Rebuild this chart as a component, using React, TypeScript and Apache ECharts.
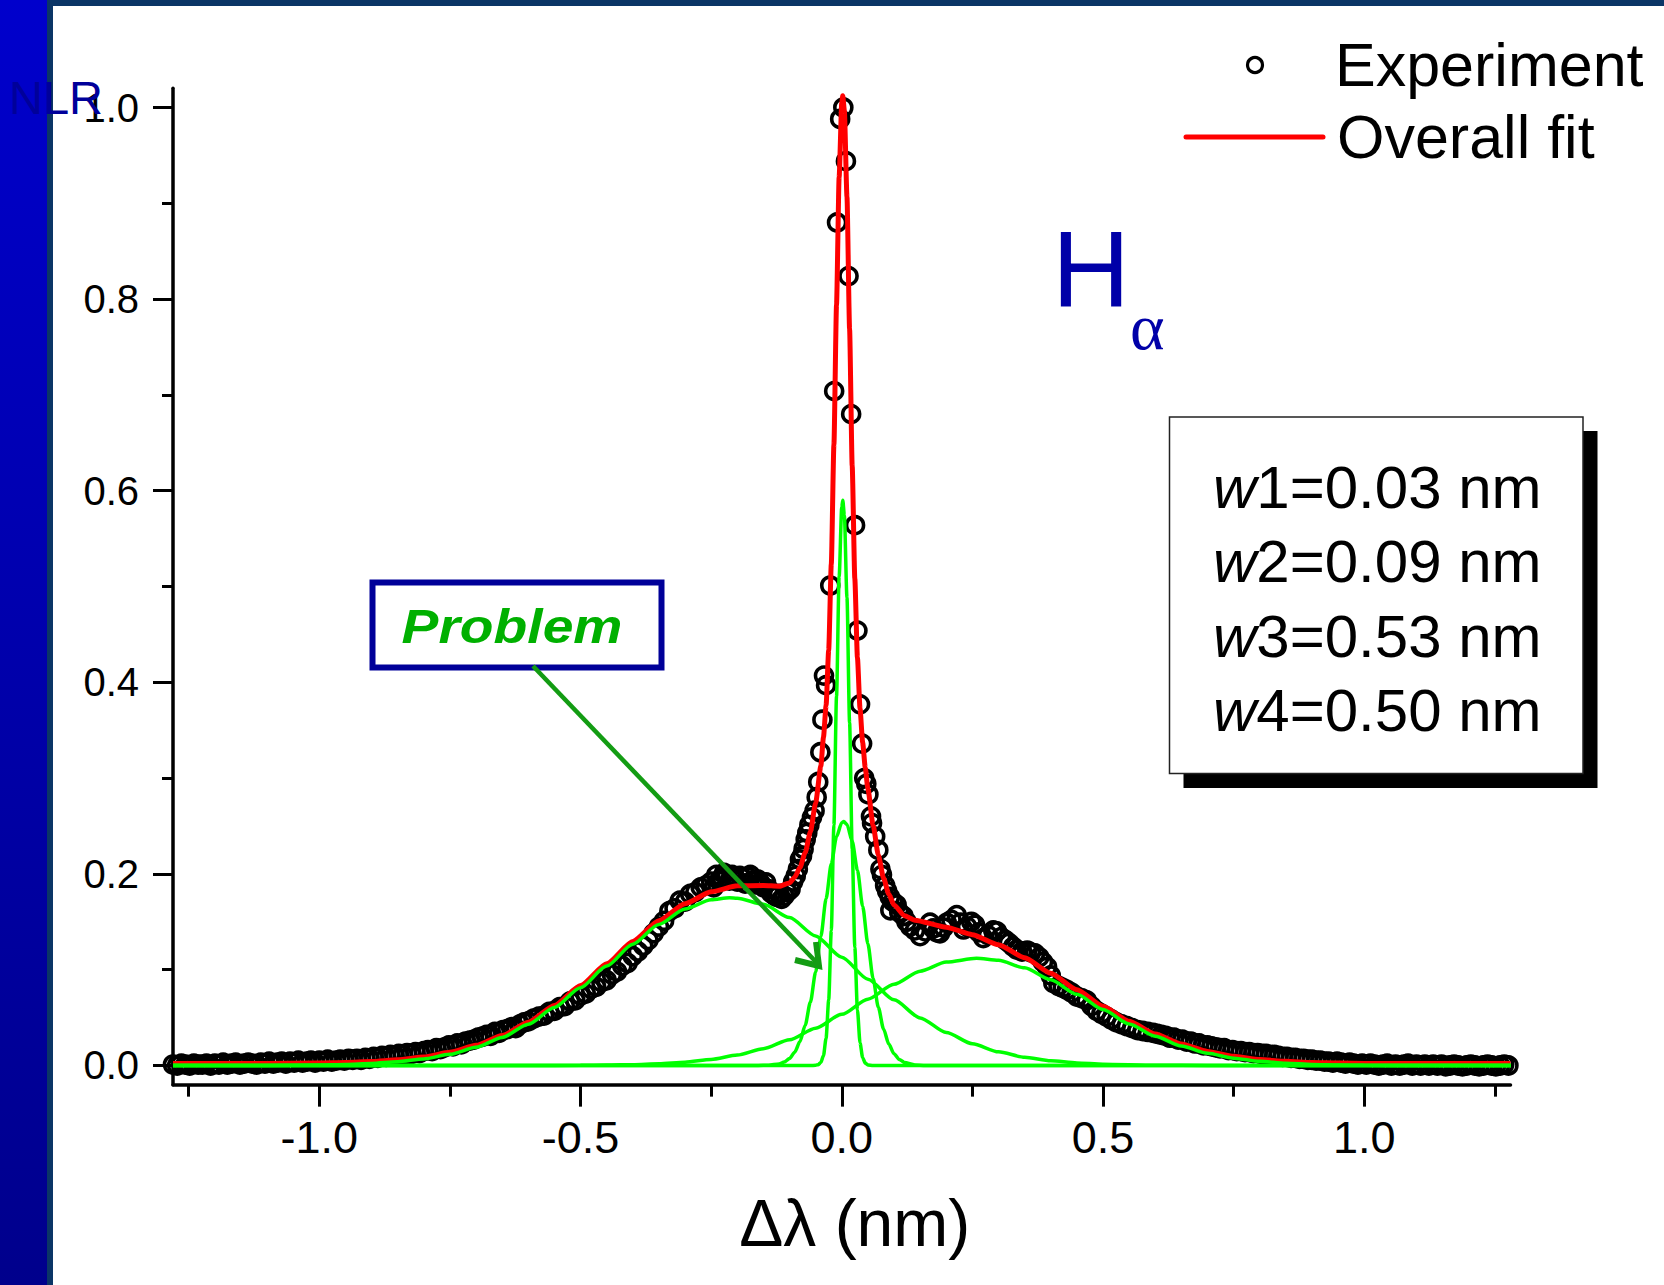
import React, { useEffect, useRef } from 'react';
import * as echarts from 'echarts';

const FONT = '"Liberation Sans", Arial, Helvetica, sans-serif';
const SERIF = '"Liberation Serif", "Times New Roman", serif';

// ---- axis ticks / labels ----
const xMajorTicks = [-1.0, -0.5, 0.0, 0.5, 1.0];
const xMinorTicks = [-1.25, -0.75, -0.25, 0.25, 0.75, 1.25];
const yMajorTicks = [0.0, 0.2, 0.4, 0.6, 0.8, 1.0];
const yMinorTicks = [0.1, 0.3, 0.5, 0.7, 0.9];
const xTitle = 'Δλ (nm)';
const yTitle = 'NLR';
const legendLabels = ['Experiment', 'Overall fit'];
const widthLabels = ['1=0.03 nm', '2=0.09 nm', '3=0.53 nm', '4=0.50 nm'];

const expLeftTail = [
  [-1.280, .001], [-1.272, .000], [-1.264, .002], [-1.256, .001], [-1.248, .000], [-1.240, .002], [-1.232, .001], [-1.224, .001],
  [-1.216, .002], [-1.208, .000], [-1.200, .002], [-1.192, .001], [-1.184, .003], [-1.176, .001], [-1.168, .002], [-1.160, .003],
  [-1.152, .001], [-1.144, .002], [-1.136, .003], [-1.128, .002], [-1.120, .001], [-1.112, .003], [-1.104, .002], [-1.096, .004],
  [-1.088, .002], [-1.080, .003], [-1.072, .004], [-1.064, .002], [-1.056, .004], [-1.048, .003], [-1.040, .005], [-1.032, .003],
  [-1.024, .004], [-1.016, .005], [-1.008, .003], [-1.000, .005], [-0.992, .004], [-0.984, .006], [-0.976, .004], [-0.968, .005],
  [-0.960, .006], [-0.952, .005], [-0.944, .007], [-0.936, .006], [-0.928, .007], [-0.920, .006], [-0.912, .008], [-0.904, .007],
  [-0.896, .009], [-0.888, .008], [-0.880, .010], [-0.872, .009], [-0.864, .011], [-0.856, .010], [-0.848, .012], [-0.840, .011],
  [-0.832, .013], [-0.824, .012], [-0.816, .014], [-0.808, .013], [-0.800, .015], [-0.792, .016], [-0.784, .015], [-0.776, .018],
  [-0.768, .017], [-0.760, .019], [-0.752, .021], [-0.744, .020], [-0.736, .023], [-0.728, .022], [-0.720, .025], [-0.712, .026],
  [-0.704, .027], [-0.696, .029], [-0.688, .030], [-0.680, .032], [-0.672, .031], [-0.664, .035], [-0.656, .034], [-0.648, .037],
  [-0.640, .038], [-0.632, .040], [-0.624, .039], [-0.616, .043], [-0.608, .045], [-0.600, .046],
];
const expLeftShoulder = [
  [-0.59, .049], [-0.58, .051], [-0.57, .052], [-0.56, .056], [-0.55, .057], [-0.54, .061], [-0.53, .062], [-0.52, .067],
  [-0.51, .068], [-0.50, .073], [-0.49, .075], [-0.48, .080], [-0.47, .082], [-0.46, .087], [-0.45, .089], [-0.44, .095],
  [-0.43, .098], [-0.42, .104], [-0.41, .107], [-0.40, .114], [-0.39, .119], [-0.38, .125], [-0.37, .131], [-0.36, .138],
  [-0.35, .145], [-0.34, .151], [-0.33, .161], [-0.32, .164], [-0.31, .172], [-0.30, .171], [-0.29, .179], [-0.28, .181],
  [-0.27, .186], [-0.26, .188], [-0.25, .192], [-0.245, .186], [-0.24, .199], [-0.235, .193], [-0.23, .196], [-0.225, .201],
  [-0.22, .197], [-0.215, .193], [-0.21, .199], [-0.205, .195], [-0.20, .192], [-0.195, .198], [-0.19, .196], [-0.185, .190],
  [-0.18, .197], [-0.175, .199], [-0.17, .193], [-0.165, .189], [-0.16, .194], [-0.155, .190], [-0.15, .186], [-0.145, .191],
  [-0.14, .184], [-0.135, .180], [-0.13, .178], [-0.125, .176], [-0.12, .179], [-0.115, .174],
];
const expPeak = [
  [-0.110, .177], [-0.104, .181], [-0.098, .184], [-0.093, .192], [-0.088, .198], [-0.084, .205], [-0.080, .215], [-0.076, .219],
  [-0.073, .226], [-0.069, .236], [-0.066, .243], [-0.062, .251], [-0.057, .259], [-0.052, .266], [-0.048, .280], [-0.045, .296],
  [-0.041, .327], [-0.037, .361], [-0.034, .407], [-0.030, .397], [-0.022, .501], [-0.0145, .704], [-0.009, .880], [-0.003, .988],
  [0.003, 1.000], [0.008, .944], [0.013, .824], [0.018, .680], [0.0255, .564], [0.030, .454], [0.035, .377], [0.039, .336],
  [0.043, .300], [0.047, .294], [0.051, .283], [0.056, .260], [0.058, .253], [0.064, .239], [0.070, .225], [0.074, .205],
  [0.077, .199], [0.083, .188], [0.087, .182], [0.092, .176], [0.093, .162], [0.098, .171], [0.105, .168], [0.110, .160],
  [0.118, .156], [0.124, .150], [0.131, .145],
];
const expRightShoulder = [
  [0.140, .141], [0.150, .135], [0.160, .140], [0.169, .149], [0.175, .143], [0.182, .139], [0.188, .138], [0.195, .144],
  [0.201, .149], [0.210, .152], [0.220, .157], [0.227, .149], [0.233, .142], [0.240, .145], [0.248, .150], [0.255, .147],
  [0.262, .139], [0.271, .133], [0.280, .136], [0.290, .141], [0.297, .140], [0.305, .134], [0.313, .131], [0.320, .128],
  [0.328, .124], [0.335, .121], [0.345, .119], [0.355, .120], [0.362, .118], [0.370, .117], [0.378, .113], [0.385, .108],
  [0.393, .103], [0.400, .094], [0.405, .086], [0.415, .083], [0.423, .081], [0.431, .079], [0.440, .076], [0.450, .072],
  [0.460, .070], [0.469, .068], [0.478, .062], [0.488, .057], [0.497, .054], [0.507, .051], [0.516, .048], [0.526, .045],
  [0.536, .043], [0.546, .041], [0.556, .039], [0.566, .037], [0.576, .036], [0.586, .035], [0.596, .034],
];
const expRightTail = [
  [0.604, .033], [0.612, .032], [0.620, .031], [0.628, .029], [0.636, .029], [0.644, .027], [0.652, .027], [0.660, .025],
  [0.668, .025], [0.676, .023], [0.684, .023], [0.692, .021], [0.700, .021], [0.708, .020], [0.716, .019], [0.724, .018],
  [0.732, .018], [0.740, .016], [0.748, .016], [0.756, .015], [0.764, .015], [0.772, .014], [0.780, .014], [0.788, .013],
  [0.796, .013], [0.804, .012], [0.812, .012], [0.820, .011], [0.828, .011], [0.836, .010], [0.844, .009], [0.852, .009],
  [0.860, .008], [0.868, .008], [0.876, .007], [0.884, .007], [0.892, .006], [0.900, .006], [0.908, .005], [0.916, .005],
  [0.924, .004], [0.932, .004], [0.940, .003], [0.948, .004], [0.956, .003], [0.964, .002], [0.972, .003], [0.980, .002],
  [0.988, .001], [0.996, .002], [1.004, .001], [1.012, .002], [1.020, .001], [1.028, .000], [1.036, .001], [1.044, .002],
  [1.052, .000], [1.060, .001], [1.068, .000], [1.076, .001], [1.084, .002], [1.092, .000], [1.100, .001], [1.108, .000],
  [1.116, .001], [1.124, .000], [1.132, .001], [1.140, .000], [1.148, .001], [1.156, -.001], [1.164, .000], [1.172, .001],
  [1.180, .000], [1.188, -.001], [1.196, .000], [1.204, .001], [1.212, .000], [1.220, -.001], [1.228, .000], [1.236, .001],
  [1.244, .000], [1.252, -.001], [1.260, .000], [1.268, .001], [1.276, .000],
];

// ---- overall fit (red) ----
const overallFit = [
  [-1.28, .002], [-1.2, .002], [-1.1, .002], [-1.0, .0025], [-0.95, .0031], [-0.9, .0041], [-0.85, .0059], [-0.8, .0089],
  [-0.75, .0138], [-0.7, .021], [-0.65, .0313], [-0.6, .0452], [-0.55, .0627], [-0.5, .0834], [-0.45, .1062], [-0.4, .1295],
  [-0.35, .1511], [-0.3, .1689], [-0.25, .1813], [-0.2, .1875], [-0.15, .1879], [-0.12, .1871], [-0.1, .1906], [-0.09, .1965],
  [-0.08, .2067], [-0.07, .2221], [-0.06, .244], [-0.05, .2741], [-0.04, .3126], [-0.035, .3426], [-0.03, .3757], [-0.025, .4338],
  [-0.02, .5234], [-0.015, .6479], [-0.01, .794], [-0.005, .9275], [0, 1.0048], [0.002, 1.0124], [0.005, .9967], [0.01, .9068],
  [0.015, .7687], [0.02, .6257], [0.025, .5083], [0.03, .4259], [0.035, .3725], [0.04, .3372], [0.045, .311], [0.05, .2889],
  [0.06, .2508], [0.07, .2196], [0.08, .1957], [0.09, .1789], [0.1, .1676], [0.12, .1563], [0.14, .1517], [0.2, .1443],
  [0.25, .1366], [0.3, .1261], [0.35, .1125], [0.4, .0964], [0.45, .079], [0.5, .0618], [0.55, .0461], [0.6, .0328],
  [0.65, .0224], [0.7, .0147], [0.75, .0096], [0.8, .0063], [0.85, .0043], [0.9, .0031], [0.95, .0025], [1.0, .0022],
  [1.1, .002], [1.2, .002], [1.28, .002],
];

// ---- fit components (green) ----
const component1 = [
  [-1.28, 0], [-0.06, 0], [-0.05, .0002], [-0.045, .0009], [-0.04, .0032], [-0.035, .0103], [-0.03, .0285], [-0.025, .0683],
  [-0.02, .141], [-0.015, .2509], [-0.01, .3853], [-0.005, .5104], [0, .5831], [0.002, .59], [0.005, .5745], [0.01, .4883],
  [0.015, .3579], [0.02, .2262], [0.025, .1234], [0.03, .058], [0.035, .0236], [0.04, .0082], [0.045, .0025], [0.05, .0006],
  [0.06, 0], [1.28, 0],
];
const component2 = [
  [-1.28, 0], [-0.16, 0], [-0.14, .0003], [-0.12, .0016], [-0.11, .0036], [-0.1, .0073], [-0.09, .0139], [-0.08, .025],
  [-0.07, .0421], [-0.06, .0662], [-0.05, .0976], [-0.04, .1347], [-0.03, .1741], [-0.02, .2107], [-0.01, .2387], [0, .2533],
  [0.004, .2546], [0.01, .2516], [0.02, .2341], [0.03, .2039], [0.04, .1663], [0.05, .127], [0.06, .0908], [0.07, .0608],
  [0.08, .0381], [0.09, .0224], [0.1, .0123], [0.11, .0063], [0.12, .0031], [0.14, .0006], [0.16, 0], [1.28, 0],
];
const component3 = [
  [-1.28, 0], [-1.1, .0001], [-1.0, .0005], [-0.95, .0011], [-0.9, .0021], [-0.85, .0039], [-0.8, .0069], [-0.75, .0117],
  [-0.7, .019], [-0.65, .0293], [-0.6, .0431], [-0.55, .0606], [-0.5, .0812], [-0.45, .1038], [-0.4, .1266], [-0.35, .1473],
  [-0.3, .1634], [-0.25, .173], [-0.215, .175], [-0.2, .1746], [-0.15, .1682], [-0.1, .1544], [-0.05, .1353], [0, .113],
  [0.05, .0901], [0.1, .0685], [0.15, .0497], [0.2, .0344], [0.25, .0227], [0.3, .0143], [0.35, .0086], [0.4, .0049],
  [0.45, .0027], [0.5, .0014], [0.6, .0003], [0.7, 0], [1.28, 0],
];
const component4 = [
  [-1.28, 0], [-0.6, 0], [-0.5, .0002], [-0.45, .0004], [-0.4, .0009], [-0.35, .0018], [-0.3, .0035], [-0.25, .0063],
  [-0.2, .0109], [-0.15, .0176], [-0.1, .0269], [-0.05, .039], [0, .0534], [0.05, .0692], [0.1, .0848], [0.15, .0984],
  [0.2, .1079], [0.258, .112], [0.3, .1098], [0.35, .1019], [0.4, .0895], [0.45, .0743], [0.5, .0584], [0.55, .0434],
  [0.6, .0305], [0.65, .0203], [0.7, .0127], [0.75, .0076], [0.8, .0043], [0.85, .0023], [0.9, .0011], [0.95, .0005],
  [1.0, .0002], [1.1, 0], [1.28, 0],
];

const experiment = [...expLeftTail, ...expLeftShoulder, ...expPeak, ...expRightShoulder, ...expRightTail];

const fmt1 = (v: number) => v.toFixed(1);

function buildOption() {
  const green = '#00ff00';
  const arrowGreen = '#139c13';
  const boxTextY = [487, 561.5, 636, 710];
  const componentLine = (data: number[][]) => ({
    type: 'line', data, showSymbol: false, symbol: 'none', smooth: 0.25, smoothMonotone: 'x',
    lineStyle: { color: green, width: 3.5 }, z: 4, silent: true,
  });
  return {
    animation: false,
    backgroundColor: '#ffffff',
    grid: { left: 173, right: 153.5, top: 88.35, bottom: 200.35, containLabel: false, outerBoundsMode: 'none' },
    xAxis: [
      {
        type: 'value', min: -1.28, max: 1.28, position: 'bottom',
        axisLine: { show: true, onZero: false, lineStyle: { color: '#000', width: 3.5 } },
        axisTick: { show: true, customValues: xMajorTicks, length: 22, lineStyle: { color: '#000', width: 3 } },
        axisLabel: { customValues: xMajorTicks, formatter: fmt1, fontSize: 45, fontFamily: FONT, color: '#000', margin: 30 },
        splitLine: { show: false },
        name: xTitle, nameLocation: 'middle', nameGap: 105,
        nameTextStyle: { fontSize: 66, fontFamily: FONT, color: '#000', padding: [0, 0, 0, 26] },
      },
      {
        type: 'value', min: -1.28, max: 1.28, position: 'bottom',
        axisLine: { show: false, onZero: false },
        axisTick: { show: true, customValues: xMinorTicks, length: 12, lineStyle: { color: '#000', width: 3 } },
        axisLabel: { show: false }, splitLine: { show: false },
      },
    ],
    yAxis: [
      {
        type: 'value', min: -0.02, max: 1.02, position: 'left',
        axisLine: { show: true, onZero: false, lineStyle: { color: '#000', width: 3.5 } },
        axisTick: { show: true, customValues: yMajorTicks, length: 20, lineStyle: { color: '#000', width: 3 } },
        axisLabel: { customValues: yMajorTicks, formatter: fmt1, fontSize: 40, fontFamily: FONT, color: '#000', margin: 34 },
        splitLine: { show: false },
      },
      {
        type: 'value', min: -0.02, max: 1.02, position: 'left',
        axisLine: { show: false, onZero: false },
        axisTick: { show: true, customValues: yMinorTicks, length: 11, lineStyle: { color: '#000', width: 3 } },
        axisLabel: { show: false }, splitLine: { show: false },
      },
    ],
    series: [
      {
        type: 'scatter', name: legendLabels[0], data: experiment, symbol: 'circle', symbolSize: 17,
        itemStyle: { color: 'rgba(0,0,0,0)', borderColor: '#000', borderWidth: 3.6, opacity: 1 }, z: 2, silent: true,
      },
      {
        type: 'line', name: legendLabels[1], data: overallFit, showSymbol: false, symbol: 'none',
        smooth: 0.2, smoothMonotone: 'x', lineStyle: { color: '#ff0000', width: 5 }, z: 3, silent: true,
      },
      componentLine(component1),
      componentLine(component2),
      componentLine(component3),
      componentLine(component4),
    ],
    graphic: {
      elements: [
        // slide frame
        {
          type: 'rect', z: -10, shape: { x: 0, y: 0, width: 47, height: 1285 },
          style: { fill: { type: 'linear', x: 0, y: 0, x2: 0, y2: 1, colorStops: [{ offset: 0, color: '#0000cc' }, { offset: 1, color: '#00008c' }] } },
        },
        { type: 'rect', z: -10, shape: { x: 47, y: 0, width: 6, height: 1285 }, style: { fill: '#0b3566' } },
        { type: 'rect', z: -10, shape: { x: 47, y: 0, width: 1617, height: 6 }, style: { fill: '#0b3566' } },
        // y title
        { type: 'text', z: 100, style: { text: yTitle, x: 9, y: 97, fill: '#00009a', font: `47px ${FONT}`, textAlign: 'left', textVerticalAlign: 'middle' } },
        // H alpha
        { type: 'text', z: 100, style: { text: 'H', x: 1052, y: 268, fill: '#0000a8', font: `108px ${FONT}`, textAlign: 'left', textVerticalAlign: 'middle' } },
        { type: 'text', z: 100, style: { text: 'α', x: 1130, y: 326, fill: '#0000a8', font: `66px ${SERIF}`, textAlign: 'left', textVerticalAlign: 'middle' } },
        // widths box
        { type: 'rect', z: 100, shape: { x: 1183.5, y: 431, width: 414, height: 357 }, style: { fill: '#000' } },
        { type: 'rect', z: 101, shape: { x: 1169.5, y: 417, width: 413.5, height: 356.6 }, style: { fill: '#fff', stroke: '#222', lineWidth: 1.5 } },
        ...widthLabels.map((t, i) => ({
          type: 'text', z: 102,
          style: {
            text: `{i|w}${t}`, x: 1213, y: boxTextY[i], fill: '#000', font: `60px ${FONT}`,
            textAlign: 'left', textVerticalAlign: 'middle',
            rich: { i: { fontStyle: 'italic', fontSize: 60, fontFamily: FONT, fill: '#000', color: '#000' } },
          },
        })),
        // Problem box and arrow
        { type: 'rect', z: 100, shape: { x: 372.5, y: 582.5, width: 289, height: 85 }, style: { fill: '#fff', stroke: '#000099', lineWidth: 6 } },
        {
          type: 'text', z: 101, x: 512, y: 626, scaleX: 1.15,
          style: { text: 'Problem', x: 0, y: 0, fill: '#00b000', font: `italic bold 48px ${FONT}`, textAlign: 'center', textVerticalAlign: 'middle' },
        },
        { type: 'line', z: 100, shape: { x1: 533, y1: 666, x2: 818, y2: 964 }, style: { stroke: arrowGreen, lineWidth: 4.5 } },
        { type: 'polyline', z: 100, shape: { points: [[795, 960], [819, 966], [816, 942]] }, style: { stroke: arrowGreen, lineWidth: 6, fill: 'none' } },
        // legend
        { type: 'circle', z: 100, shape: { cx: 1255, cy: 65, r: 7.5 }, style: { fill: 'none', stroke: '#000', lineWidth: 3.2 } },
        { type: 'text', z: 100, style: { text: legendLabels[0], x: 1335, y: 65, fill: '#000', font: `61px ${FONT}`, textAlign: 'left', textVerticalAlign: 'middle' } },
        { type: 'line', z: 100, shape: { x1: 1186, y1: 137, x2: 1323, y2: 137 }, style: { stroke: '#ff0000', lineWidth: 5, lineCap: 'round' } },
        { type: 'text', z: 100, style: { text: legendLabels[1], x: 1337, y: 137, fill: '#000', font: `61px ${FONT}`, textAlign: 'left', textVerticalAlign: 'middle' } },
      ],
    },
  };
}

export default function App() {
  const ref = useRef<HTMLDivElement>(null);
  useEffect(() => {
    if (!ref.current) return;
    const chart = echarts.init(ref.current, null, { renderer: 'svg' });
    chart.setOption(buildOption() as any);
    return () => chart.dispose();
  }, []);
  return (
    <div
      ref={ref}
      style={{ position: 'fixed', left: 0, top: 0, width: 1664, height: 1285, background: '#ffffff' }}
    />
  );
}
